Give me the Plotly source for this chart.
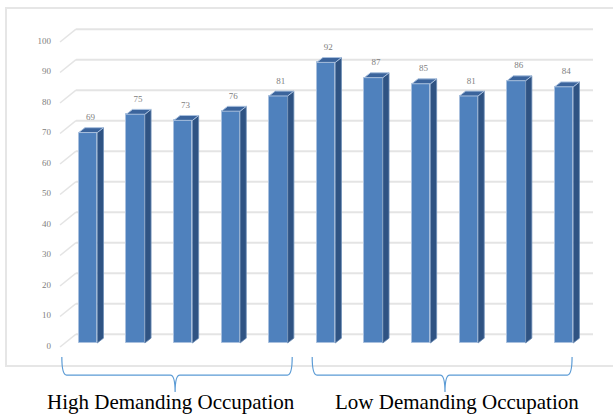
import plotly.graph_objects as go

# Scores per occupation, two occupation groups
values = [69, 75, 73, 76, 81, 92, 87, 85, 81, 86, 84]
group_names = ["High Demanding Occupation", "Low Demanding Occupation"]
group_members = [[0, 1, 2, 3, 4], [5, 6, 7, 8, 9, 10]]
y_ticks = [0, 10, 20, 30, 40, 50, 60, 70, 80, 90, 100]

W, H = 613, 416
X_RANGE = [-1.849, 11.03]
Y_RANGE = [-23.93, 112.46]

BAR_W = 0.39          # front face width (category units)
DEPTH_X = 0.13        # 3-D side depth
DEPTH_Y = 1.6
WALL_X0, WALL_X1 = -0.252, 10.61
WALL_DY = 2.9
DIAG_X0, DIAG_DY = -0.588, -1.3

FRONT = "#4f81bd"
SIDE = "#2f5383"
TOP = "#3b649c"
EDGE = "#a9c0de"
GRID = "#e4e4e4"
BRACE = "#5b9bd5"

xs = list(range(len(values)))

fig = go.Figure()

# front faces
fig.add_trace(go.Bar(
    x=xs, y=values, width=BAR_W,
    marker=dict(color=FRONT, line=dict(color=EDGE, width=1)),
    hoverinfo="skip", showlegend=False,
))

# side and top faces of each column
side_x, side_y, top_x, top_y = [], [], [], []
for x, v in zip(xs, values):
    r, l = x + BAR_W / 2, x - BAR_W / 2
    side_x += [r, r + DEPTH_X, r + DEPTH_X, r, r, None]
    side_y += [0, DEPTH_Y, v + DEPTH_Y, v, 0, None]
    top_x += [l, l + DEPTH_X, r + DEPTH_X, r, l, None]
    top_y += [v, v + DEPTH_Y, v + DEPTH_Y, v, v, None]
fig.add_trace(go.Scatter(x=side_x, y=side_y, fill="toself", fillcolor=SIDE,
                         mode="lines", line=dict(color="#6f8fb8", width=0.8),
                         hoverinfo="skip", showlegend=False))
fig.add_trace(go.Scatter(x=top_x, y=top_y, fill="toself", fillcolor=TOP,
                         mode="lines", line=dict(color=EDGE, width=1),
                         hoverinfo="skip", showlegend=False))

# value labels
fig.add_trace(go.Scatter(
    x=[x + 0.05 for x in xs], y=[v + 4.8 for v in values],
    mode="text", text=[str(v) for v in values], textposition="middle center",
    textfont=dict(family="Liberation Serif", size=9, color="#808080"),
    hoverinfo="skip", showlegend=False,
))

# axis tick labels
fig.add_trace(go.Scatter(
    x=[-0.78] * len(y_ticks), y=[t - 1.2 for t in y_ticks],
    mode="text", text=[str(t) for t in y_ticks], textposition="middle left",
    textfont=dict(family="Liberation Serif", size=9, color="#808080"),
    hoverinfo="skip", showlegend=False,
))

shapes = []
# back-wall gridlines with perspective connectors
for t in y_ticks:
    shapes.append(dict(type="line", xref="x", yref="y", layer="below",
                       x0=WALL_X0, x1=WALL_X1, y0=t + WALL_DY, y1=t + WALL_DY,
                       line=dict(color=GRID, width=2)))
    shapes.append(dict(type="line", xref="x", yref="y", layer="below",
                       x0=DIAG_X0, x1=WALL_X0, y0=t + DIAG_DY, y1=t + WALL_DY,
                       line=dict(color=GRID, width=1.5)))

# chart border
shapes.append(dict(type="rect", xref="paper", yref="paper", layer="below",
                   x0=6 / W, x1=1.02, y0=1 - 366 / H, y1=1 - 8 / H,
                   line=dict(color="#e6e6e6", width=2)))

# group braces
brace_spans = [(-0.55, 4.29, 1.83), (4.71, 10.17, 7.5)]
b_top, b_mid, b_tip = -4.6, -10.5, -16.1
cx = 0.1
for (x0, x1, xm) in brace_spans:
    path = (f"M {x0},{b_top} Q {x0},{b_mid} {x0 + cx},{b_mid} "
            f"L {xm - cx},{b_mid} Q {xm},{b_mid} {xm},{b_tip} "
            f"Q {xm},{b_mid} {xm + cx},{b_mid} "
            f"L {x1 - cx},{b_mid} Q {x1},{b_mid} {x1},{b_top}")
    shapes.append(dict(type="path", xref="x", yref="y", path=path,
                       line=dict(color=BRACE, width=1.2)))

label_x = [1.75, 7.76]
annotations = [
    dict(x=lx, y=1 - 402 / H, xref="x", yref="paper", text=name,
         showarrow=False, xanchor="center", yanchor="middle",
         font=dict(family="Liberation Serif", size=21, color="#000000"))
    for lx, name in zip(label_x, group_names)
]

fig.update_layout(
    width=W, height=H,
    margin=dict(l=0, r=0, t=0, b=0),
    paper_bgcolor="white", plot_bgcolor="white",
    xaxis=dict(range=X_RANGE, visible=False, fixedrange=True),
    yaxis=dict(range=Y_RANGE, visible=False, fixedrange=True),
    shapes=shapes, annotations=annotations,
    bargap=0, showlegend=False,
)

fig.write_html("out.html")
